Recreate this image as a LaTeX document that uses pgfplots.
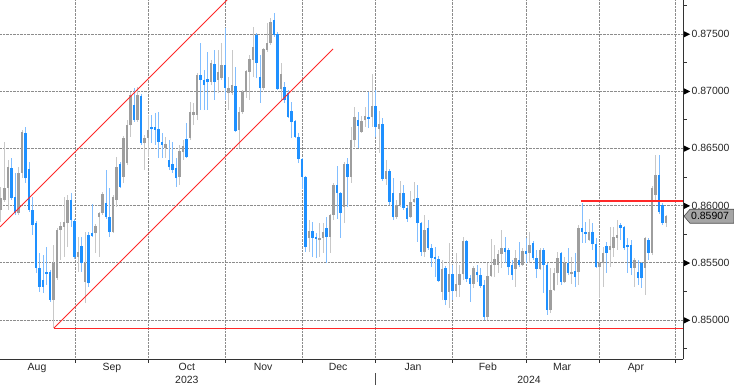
\documentclass[border=0pt]{standalone}
\usepackage{fontspec}
\setmainfont{Liberation Sans}
\usepackage{pgfplots}
\pgfplotsset{compat=1.18}
\usepackage{pgfplotstable}
\definecolor{upbody}{RGB}{158,158,158}
\definecolor{upwick}{RGB}{200,200,200}
\definecolor{dnbody}{RGB}{30,144,255}
\definecolor{dnwick}{RGB}{130,190,255}
\definecolor{gridc}{RGB}{140,140,140}
\definecolor{trend}{RGB}{255,40,40}
\definecolor{boxgrey}{RGB}{165,165,165}

\pgfplotstableread{
i O H L C
0 0.85962 0.86163 0.85857 0.86066
1 0.86049 0.86556 0.86032 0.86154
2 0.86154 0.86399 0.85962 0.86337
5 0.85935 0.86337 0.85918 0.86285
6 0.86285 0.86661 0.86241 0.86643
15 0.85175 0.85656 0.84930 0.85498
16 0.85367 0.85804 0.85350 0.85787
17 0.85787 0.85857 0.85525 0.85822
18 0.85813 0.86075 0.85551 0.85857
19 0.85848 0.86093 0.85638 0.86049
22 0.85551 0.85726 0.85420 0.85595
24 0.85332 0.85769 0.85149 0.85498
27 0.85761 0.85839 0.85586 0.85822
28 0.85900 0.85944 0.85551 0.85935
29 0.85935 0.86119 0.85918 0.86101
32 0.85769 0.86093 0.85761 0.86075
33 0.86049 0.86425 0.85988 0.86337
35 0.86250 0.86608 0.86198 0.86591
36 0.86372 0.86748 0.86355 0.86704
37 0.86704 0.86993 0.86600 0.86967
39 0.86748 0.87037 0.86731 0.86967
41 0.86547 0.86617 0.86311 0.86591
42 0.86591 0.86792 0.86425 0.86661
47 0.86503 0.86600 0.86416 0.86538
51 0.86250 0.86530 0.86180 0.86477
52 0.86469 0.86573 0.86399 0.86521
54 0.86591 0.86906 0.86573 0.86818
55 0.86792 0.86897 0.86704 0.86818
56 0.86792 0.87159 0.86748 0.87141
60 0.87080 0.87273 0.87054 0.87246
62 0.87098 0.87360 0.86984 0.87168
63 0.87115 0.87421 0.87098 0.87229
65 0.86984 0.87124 0.86836 0.87028
66 0.86984 0.87360 0.86967 0.87054
68 0.86661 0.86862 0.86503 0.86818
69 0.86818 0.87010 0.86801 0.86993
70 0.86993 0.87185 0.86940 0.87176
71 0.87168 0.87316 0.86923 0.87281
72 0.87273 0.87561 0.87124 0.87386
75 0.87028 0.87377 0.87010 0.87369
76 0.87360 0.87596 0.87343 0.87421
77 0.87421 0.87640 0.87404 0.87605
80 0.87019 0.87246 0.86923 0.87150
88 0.85717 0.85874 0.85595 0.85778
91 0.85699 0.85848 0.85551 0.85717
92 0.85717 0.85848 0.85586 0.85769
94 0.85726 0.85927 0.85586 0.85918
95 0.85918 0.86198 0.85874 0.86180
98 0.85988 0.86381 0.85848 0.86364
100 0.86250 0.86687 0.86198 0.86573
101 0.86573 0.86862 0.86512 0.86774
103 0.86643 0.86783 0.86635 0.86739
104 0.86748 0.86862 0.86687 0.86783
106 0.86774 0.87150 0.86687 0.86871
108 0.86670 0.86827 0.86460 0.86713
110 0.86233 0.86399 0.86180 0.86302
113 0.85900 0.86049 0.85883 0.86005
114 0.86005 0.86215 0.85988 0.86110
117 0.85900 0.86128 0.85892 0.86032
118 0.86032 0.86206 0.86023 0.86058
121 0.85595 0.85918 0.85551 0.85787
126 0.85245 0.85525 0.85175 0.85446
128 0.85245 0.85673 0.85105 0.85402
130 0.85254 0.85586 0.85201 0.85315
131 0.85306 0.85481 0.85201 0.85402
132 0.85402 0.85726 0.85350 0.85691
135 0.85315 0.85472 0.85280 0.85455
139 0.85026 0.85498 0.85000 0.85385
140 0.85385 0.85708 0.85376 0.85481
141 0.85481 0.85656 0.85376 0.85533
142 0.85481 0.85612 0.85411 0.85577
143 0.85577 0.85787 0.85455 0.85629
147 0.85446 0.85612 0.85289 0.85542
149 0.85481 0.85629 0.85472 0.85603
151 0.85586 0.85769 0.85498 0.85656
154 0.85446 0.85629 0.85437 0.85612
157 0.85088 0.85455 0.85061 0.85262
158 0.85262 0.85455 0.85254 0.85411
159 0.85411 0.85595 0.85306 0.85542
161 0.85332 0.85551 0.85324 0.85498
163 0.85402 0.85551 0.85315 0.85420
165 0.85420 0.85830 0.85306 0.85804
168 0.85699 0.85883 0.85691 0.85769
171 0.85463 0.85638 0.85192 0.85498
172 0.85498 0.85638 0.85289 0.85586
174 0.85612 0.85813 0.85463 0.85647
175 0.85629 0.85813 0.85551 0.85726
176 0.85717 0.85874 0.85612 0.85743
181 0.85455 0.85542 0.85289 0.85525
184 0.85455 0.85726 0.85219 0.85717
186 0.85586 0.86171 0.85568 0.86154
187 0.86093 0.86442 0.86049 0.86267
190 0.85848 0.85918 0.85813 0.85907
}\upcandles

\pgfplotstableread{
i O H L C
3 0.86329 0.86416 0.86049 0.86066
4 0.86075 0.86285 0.85918 0.85935
7 0.86635 0.86687 0.86198 0.86241
8 0.86320 0.86381 0.85944 0.85962
9 0.85962 0.86075 0.85743 0.85830
10 0.85848 0.85865 0.85411 0.85455
11 0.85455 0.85586 0.85245 0.85289
12 0.85350 0.85568 0.85236 0.85289
13 0.85420 0.85638 0.85306 0.85402
14 0.85420 0.85437 0.85158 0.85175
20 0.86049 0.86110 0.85813 0.85874
21 0.85865 0.85883 0.85533 0.85551
23 0.85647 0.85726 0.85420 0.85498
25 0.85743 0.85769 0.85289 0.85324
26 0.85761 0.86014 0.85726 0.85734
30 0.86023 0.86311 0.85883 0.85900
31 0.85900 0.86154 0.85726 0.85769
34 0.86364 0.86381 0.86154 0.86163
38 0.86879 0.87028 0.86731 0.86748
40 0.86958 0.86975 0.86530 0.86547
43 0.86687 0.86792 0.86547 0.86670
44 0.86687 0.86809 0.86530 0.86661
45 0.86670 0.86818 0.86416 0.86556
46 0.86556 0.86635 0.86416 0.86530
48 0.86399 0.86573 0.86311 0.86337
49 0.86364 0.86556 0.86285 0.86311
50 0.86329 0.86416 0.86163 0.86241
53 0.86582 0.86722 0.86416 0.86425
57 0.87141 0.87421 0.86836 0.87098
58 0.87098 0.87185 0.86836 0.87054
59 0.87107 0.87343 0.86836 0.87080
61 0.87238 0.87360 0.86923 0.87080
64 0.87229 0.87552 0.86923 0.87028
67 0.87045 0.87211 0.86643 0.86652
73 0.87491 0.87509 0.87115 0.87246
74 0.87124 0.87316 0.86897 0.87028
78 0.87622 0.87683 0.87474 0.87491
79 0.87500 0.87517 0.87010 0.87019
81 0.87037 0.87080 0.86897 0.86923
82 0.86984 0.87010 0.86766 0.86774
83 0.86827 0.86906 0.86591 0.86731
84 0.86739 0.86748 0.86591 0.86600
85 0.86600 0.86635 0.86372 0.86407
86 0.86407 0.86416 0.86145 0.86250
87 0.86250 0.86259 0.85595 0.85638
89 0.85778 0.85857 0.85551 0.85717
90 0.85726 0.85761 0.85542 0.85708
93 0.85804 0.85900 0.85498 0.85726
96 0.86180 0.86346 0.85883 0.86110
97 0.86110 0.86119 0.85717 0.85935
99 0.86364 0.86416 0.85988 0.86250
102 0.86748 0.86818 0.86503 0.86696
105 0.86774 0.86993 0.86678 0.86757
107 0.86871 0.87010 0.86600 0.86687
109 0.86713 0.86766 0.86215 0.86233
111 0.86302 0.86320 0.86005 0.86032
112 0.86110 0.86241 0.85874 0.85900
115 0.86110 0.86180 0.85962 0.85979
116 0.85979 0.85997 0.85857 0.85883
119 0.86066 0.86180 0.85682 0.85848
120 0.85848 0.85857 0.85560 0.85595
122 0.85804 0.85874 0.85612 0.85629
123 0.85629 0.85664 0.85463 0.85542
124 0.85551 0.85638 0.85376 0.85533
125 0.85533 0.85560 0.85332 0.85341
127 0.85455 0.85472 0.85131 0.85175
129 0.85402 0.85481 0.85175 0.85254
133 0.85691 0.85699 0.85332 0.85359
134 0.85367 0.85393 0.85158 0.85315
136 0.85420 0.85481 0.85332 0.85393
137 0.85393 0.85455 0.85280 0.85297
138 0.85306 0.85350 0.85000 0.85026
144 0.85629 0.85726 0.85498 0.85595
145 0.85612 0.85629 0.85393 0.85463
146 0.85481 0.85525 0.85350 0.85393
148 0.85525 0.85682 0.85463 0.85481
150 0.85603 0.85717 0.85498 0.85577
152 0.85673 0.85691 0.85525 0.85542
153 0.85542 0.85612 0.85367 0.85446
155 0.85612 0.85629 0.85236 0.85481
156 0.85481 0.85498 0.85044 0.85088
160 0.85586 0.85595 0.85306 0.85332
162 0.85498 0.85629 0.85393 0.85411
164 0.85428 0.85586 0.85289 0.85376
166 0.85804 0.86023 0.85673 0.85769
167 0.85769 0.85857 0.85673 0.85752
169 0.85769 0.85848 0.85612 0.85664
170 0.85664 0.85717 0.85455 0.85463
173 0.85647 0.85682 0.85411 0.85586
177 0.85830 0.85848 0.85699 0.85804
178 0.85813 0.85822 0.85612 0.85629
179 0.85656 0.85717 0.85411 0.85638
180 0.85656 0.85699 0.85393 0.85455
182 0.85420 0.85525 0.85306 0.85367
183 0.85498 0.85507 0.85280 0.85367
185 0.85699 0.85717 0.85525 0.85586
188 0.86267 0.86442 0.85927 0.85944
189 0.86005 0.86023 0.85830 0.85848
}\dncandles

\begin{document}
\begin{tikzpicture}
\useasboundingbox (0,0) rectangle (734bp,-385bp);
\begin{axis}[
  at={(0,0)}, anchor=north west,
  scale only axis, width=683bp, height=359bp,
  xmin=-0.2857, xmax=194.857,
  ymin=0.84659, ymax=0.87797,
  axis x line*=bottom, axis y line*=right,
  axis line style={line width=0.8bp, draw=black!80},
  clip mode=individual,
  /pgf/number format/assume math mode=true,
  scaled y ticks=false,
  tick align=outside,
  major tick length=0pt, minor tick length=3.5bp,
  minor tick style={line width=0.8bp, black!80},
  xtick={10.3,31.7,53.1,74.9,96.3,117.7,139.1,160.3,181.4},
  xticklabels={Aug,Sep,Oct,Nov,Dec,Jan,Feb,Mar,Apr},
  minor xtick={21.14,42,64,86,106.86,128.86,150,170.86,192.57},
  ytick={0.850,0.855,0.860,0.865,0.870,0.875},
  minor ytick={0.8475,0.8525,0.8575,0.8625,0.8675,0.8725,0.8775},
  xmajorgrids=false, xminorgrids=true, ymajorgrids=true, yminorgrids=false,
  major grid style={densely dotted, gridc, line width=0.8bp},
  minor grid style={densely dotted, gridc, line width=0.8bp},
  tick label style={font=\fontsize{10.5}{12}\selectfont, text=black!85},
  xticklabel style={anchor=north, inner sep=0pt, yshift=-4bp},
  yticklabel style={anchor=west, inner sep=0pt, xshift=1bp},
  yticklabel={\tikz[baseline=-0.6ex]\fill[black] (0,-3bp)--(6bp,0)--(0,3bp)--cycle;\hspace{1.5bp}\pgfmathprintnumber[fixed,fixed zerofill,precision=5]{\tick}},
]
% wicks
\addplot[draw=none, mark=none, error bars/.cd, y dir=plus, y explicit, error mark=none,
  error bar style={draw=upwick, line width=1bp}]
  table[x=i, y=L, y error plus expr=\thisrow{H}-\thisrow{L}] {\upcandles};
\addplot[draw=none, mark=none, error bars/.cd, y dir=plus, y explicit, error mark=none,
  error bar style={draw=dnwick, line width=1bp}]
  table[x=i, y=L, y error plus expr=\thisrow{H}-\thisrow{L}] {\dncandles};
% bodies
\addplot[draw=none, mark=none, error bars/.cd, y dir=plus, y explicit, error mark=none,
  error bar style={draw=upbody, line width=2.4bp}]
  table[x=i, y=O, y error plus expr=\thisrow{C}-\thisrow{O}] {\upcandles};
\addplot[draw=none, mark=none, error bars/.cd, y dir=plus, y explicit, error mark=none,
  error bar style={draw=dnbody, line width=2.4bp}]
  table[x=i, y=C, y error plus expr=\thisrow{O}-\thisrow{C}] {\dncandles};
% trend lines
\addplot[draw=trend, line width=1bp] coordinates {(-0.2857,0.85813) (68.29,0.87911)};
\addplot[draw=trend, line width=1bp] coordinates {(15.14,0.84930) (94.86,0.87369)};
\addplot[draw=trend, line width=1bp] coordinates {(15.14,0.84930) (194.857,0.84930)};
\addplot[draw=trend, line width=1.4bp] coordinates {(165.71,0.86040) (194.857,0.86040)};
\coordinate (P) at (axis cs:194.857,0.85907);
\coordinate (Y1) at (axis cs:53.1,0.84659);
\coordinate (Y2) at (axis cs:150.86,0.84659);
\coordinate (YS) at (axis cs:106.86,0.84659);
\end{axis}
\draw[fill=boxgrey, draw=black!70, line width=0.6bp]
  ([xshift=1bp]P) -- ++(6bp,7bp) -- ++(44bp,0) -- ++(0,-14bp) -- ++(-44bp,0) -- cycle;
\node[anchor=west, inner sep=0pt, font=\fontsize{10.5}{12}\selectfont] at ([xshift=8bp]P) {0.85907};
\node[font=\fontsize{10.5}{12}\selectfont, text=black!85] at ([yshift=-20.5bp]Y1) {2023};
\node[font=\fontsize{10.5}{12}\selectfont, text=black!85] at ([yshift=-20.5bp]Y2) {2024};
\draw[black!70, line width=0.8bp] ([yshift=-14bp]YS) -- ++(0,-12bp);
\end{tikzpicture}
\end{document}
